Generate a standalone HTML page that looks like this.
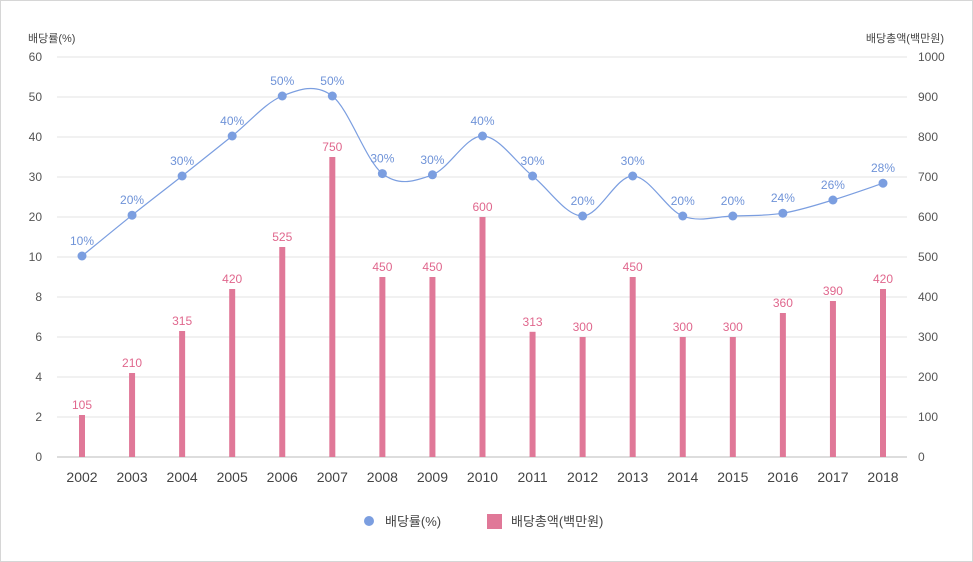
<!DOCTYPE html>
<html><head><meta charset="utf-8"><style>
body{margin:0;background:#fff;font-family:"Liberation Sans","Noto Sans CJK KR",sans-serif}
#c{position:absolute;left:0;top:0;width:971px;height:560px;border:1px solid #d6d6d6}
</style></head><body>
<div id="c">
<svg id="svg" width="973" height="562" style="position:absolute;left:-1px;top:-1px"></svg>
</div>
<script>
const years=["2002","2003","2004","2005","2006","2007","2008","2009","2010","2011","2012","2013","2014","2015","2016","2017","2018"];
const rateValues=[10,20.2,30,40,50,50,30.6,30.3,40,30,20,30,20,20,20.7,24,28.2];
const rateLabels=["10%","20%","30%","40%","50%","50%","30%","30%","40%","30%","20%","30%","20%","20%","24%","26%","28%"];
const amountValues=[105,210,315,420,525,750,450,450,600,313,300,450,300,300,360,390,420];
const leftTicks=["0","2","4","6","8","10","20","30","40","50","60"];
const rightTicks=[0,100,200,300,400,500,600,700,800,900,1000];
const svg=document.getElementById('svg');const NS="http://www.w3.org/2000/svg";
function mk(t,a,p){const e=document.createElementNS(NS,t);for(const k in a)e.setAttribute(k,a[k]);(p||svg).appendChild(e);return e;}
const X0=82,DX=(883-82)/16,Y0=457,ST=40;
const xs=i=>X0+i*DX;
const yR=v=>Y0-v*0.4;
const yL=v=>v>=10?256-(v-10)*4:Y0-v/2*ST;
for(let i=0;i<11;i++){const y=Y0-i*ST;
const g=mk('line',{x1:57,x2:907,y1:y,y2:y,stroke:i==0?'#bbb':'#e3e3e3','stroke-width':1});

const t=mk('text',{x:42,y:y+4,'text-anchor':'end','font-size':12,fill:'#555'});t.textContent=leftTicks[i];

const r=mk('text',{x:918,y:y+4,'font-size':12,fill:'#555'});r.textContent=rightTicks[i];
}
let t=mk('text',{x:28,y:42,'font-size':11,fill:'#444'});t.textContent="배당률(%)";

t=mk('text',{x:944,y:42,'font-size':11,fill:'#444','text-anchor':'end'});t.textContent="배당총액(백만원)";

years.forEach((yr,i)=>{const l=mk('text',{x:xs(i),y:482,'text-anchor':'middle','font-size':14,fill:'#444'});l.textContent=yr;
});
amountValues.forEach((v,i)=>{const b=mk('rect',{x:xs(i)-3,y:yR(v),width:6,height:Y0-yR(v),fill:'#e07898'});

const l=mk('text',{x:xs(i),y:yR(v)-6,'text-anchor':'middle','font-size':12,fill:'#e0678d'});l.textContent=v;
});
const P=rateValues.map((v,i)=>[xs(i),yL(v)]);
let d="M"+P[0][0]+","+P[0][1];
for(let i=0;i<P.length-1;i++){const p0=P[i-1]||P[i],p1=P[i],p2=P[i+1],p3=P[i+2]||p2;
const c1=[p1[0]+(p2[0]-p0[0])/6,p1[1]+(p2[1]-p0[1])/6],c2=[p2[0]-(p3[0]-p1[0])/6,p2[1]-(p3[1]-p1[1])/6];
d+=` C${c1[0]},${c1[1]} ${c2[0]},${c2[1]} ${p2[0]},${p2[1]}`;}
const ln=mk('path',{d:d,fill:'none',stroke:'#7b9ee0','stroke-width':1.2});

P.forEach((p,i)=>{const c=mk('circle',{cx:p[0],cy:p[1],r:4.5,fill:'#7b9ee0'});

const l=mk('text',{x:p[0],y:p[1]-11,'text-anchor':'middle','font-size':12,fill:'#6f93d8'});l.textContent=rateLabels[i];
});
let c=mk('circle',{cx:369,cy:521,r:5,fill:'#7b9ee0'});
t=mk('text',{x:385,y:526,'font-size':13,fill:'#444'});t.textContent="배당률(%)";
c=mk('rect',{x:487,y:514,width:15,height:15,fill:'#e07898'});
t=mk('text',{x:511,y:526,'font-size':13,fill:'#444'});t.textContent="배당총액(백만원)";
</script>
</body></html>
